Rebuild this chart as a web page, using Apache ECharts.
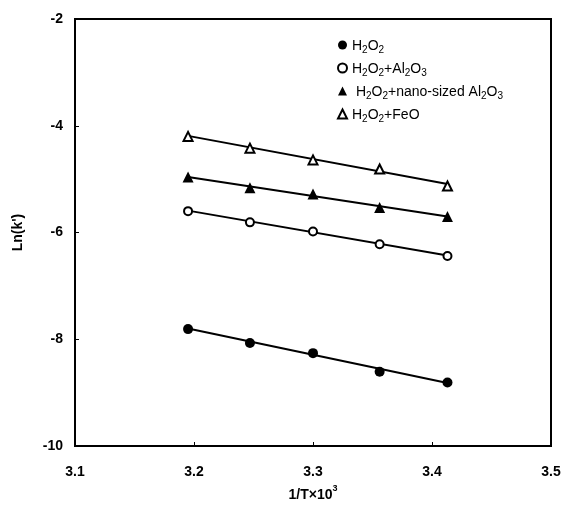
<!DOCTYPE html>
<html>
<head>
<meta charset="utf-8">
<script src="https://cdn.jsdelivr.net/npm/echarts@6/dist/echarts.min.js"></script>
<style>html,body{margin:0;padding:0;background:#fff}#c{width:567px;height:512px}</style>
</head>
<body>
<div id="c"></div>
<script>
// 1/T x 10^3 values
const invT = [3.195, 3.247, 3.300, 3.356, 3.413];
// Ln(k') values per series
const h2o2 = [-7.81, -8.07, -8.26, -8.61, -8.81];
const h2o2Al2O3 = [-5.60, -5.81, -5.98, -6.22, -6.44];
const h2o2NanoAl2O3 = [-4.96, -5.16, -5.28, -5.53, -5.70];
const h2o2FeO = [-4.20, -4.42, -4.64, -4.81, -5.13];
// fitted line end values (at first and last x)
const fitH2o2 = [-7.80, -8.82];
const fitAl2O3 = [-5.59, -6.43];
const fitNano = [-4.96, -5.70];
const fitFeO = [-4.19, -5.09];
const xTicks = [3.1, 3.2, 3.3, 3.4, 3.5];
const yTicks = [-10, -8, -6, -4, -2];

const names = ['H2O2', 'H2O2+Al2O3', 'H2O2+nano-sized Al2O3', 'H2O2+FeO'];
const legendRich = {
  'H2O2': '{n|H}{s|2}{n|O}{s|2}',
  'H2O2+Al2O3': '{n|H}{s|2}{n|O}{s|2}{n|+Al}{s|2}{n|O}{s|3}',
  'H2O2+nano-sized Al2O3': '{n| H}{s|2}{n|O}{s|2}{n|+nano-sized Al}{s|2}{n|O}{s|3}',
  'H2O2+FeO': '{n|H}{s|2}{n|O}{s|2}{n|+FeO}'
};
const pts = (ys) => invT.map((x, i) => [x, ys[i]]);
const fit = (f) => [[invT[0], f[0]], [invT[invT.length - 1], f[1]]];
const FF = 'Liberation Sans, Arial, sans-serif';

const chart = echarts.init(document.getElementById('c'), null, {renderer: 'canvas'});
const scatterBase = {type: 'scatter', z: 3};
chart.setOption({
  animation: false,
  backgroundColor: '#fff',
  grid: {left: 75, right: 16, top: 19, bottom: 66, show: true, borderColor: '#000', borderWidth: 2},
  legend: {
    orient: 'vertical', left: 332, top: 34, itemWidth: 9, itemHeight: 9, itemGap: 7,
    data: names,
    formatter: (n) => legendRich[n],
    textStyle: {
      fontFamily: FF, fontSize: 14, color: '#000',
      rich: {
        n: {fontFamily: FF, fontSize: 14, color: '#000', lineHeight: 16, verticalAlign: 'bottom'},
        s: {fontFamily: FF, fontSize: 10, color: '#000', lineHeight: 10, verticalAlign: 'bottom', padding: [0, 0, -2, 0]}
      }
    }
  },
  xAxis: {
    type: 'value', min: xTicks[0], max: xTicks[xTicks.length - 1], interval: 0.1,
    name: '{a|1/T×10}{b|3}', nameLocation: 'middle', nameGap: 38,
    nameTextStyle: {rich: {
      a: {fontFamily: FF, fontSize: 14, fontWeight: 'bold', color: '#000', verticalAlign: 'bottom', lineHeight: 18},
      b: {fontFamily: FF, fontSize: 9, fontWeight: 'bold', color: '#000', verticalAlign: 'top', lineHeight: 18, padding: [0, 0, 6, 0]}
    }},
    axisLine: {lineStyle: {color: '#000', width: 2}},
    axisTick: {inside: true, length: 4, lineStyle: {color: '#000', width: 1}},
    axisLabel: {margin: 19, fontFamily: FF, fontSize: 14, fontWeight: 'bold', color: '#000', formatter: (v) => v.toFixed(1)},
    splitLine: {show: false}
  },
  yAxis: {
    type: 'value', min: yTicks[0], max: yTicks[yTicks.length - 1], interval: 2,
    name: "Ln(k')", nameLocation: 'middle', nameGap: 50,
    nameTextStyle: {fontFamily: FF, fontSize: 14, fontWeight: 'bold', color: '#000'},
    axisLine: {lineStyle: {color: '#000', width: 2}},
    axisTick: {inside: true, length: 4, lineStyle: {color: '#000', width: 1}},
    axisLabel: {margin: 12, fontFamily: FF, fontSize: 14, fontWeight: 'bold', color: '#000', formatter: (v) => String(v)},
    splitLine: {show: false}
  },
  series: [
    {type: 'line', data: fit(fitH2o2), symbol: 'none', lineStyle: {color: '#000', width: 2}, z: 2, silent: true},
    {type: 'line', data: fit(fitAl2O3), symbol: 'none', lineStyle: {color: '#000', width: 2}, z: 2, silent: true},
    {type: 'line', data: fit(fitNano), symbol: 'none', lineStyle: {color: '#000', width: 2}, z: 2, silent: true},
    {type: 'line', data: fit(fitFeO), symbol: 'none', lineStyle: {color: '#000', width: 2}, z: 2, silent: true},
    Object.assign({}, scatterBase, {name: names[0], data: pts(h2o2), symbol: 'circle', symbolSize: 10,
      itemStyle: {color: '#000', opacity: 1}}),
    Object.assign({}, scatterBase, {name: names[1], data: pts(h2o2Al2O3), symbol: 'circle', symbolSize: 8,
      itemStyle: {color: '#fff', borderColor: '#000', borderWidth: 2, opacity: 1}}),
    Object.assign({}, scatterBase, {name: names[2], data: pts(h2o2NanoAl2O3), symbol: 'triangle', symbolSize: 11,
      itemStyle: {color: '#000', opacity: 1}}),
    Object.assign({}, scatterBase, {name: names[3], data: pts(h2o2FeO), symbol: 'triangle', symbolSize: 9,
      itemStyle: {color: '#fff', borderColor: '#000', borderWidth: 2, opacity: 1}})
  ]
});
</script>
</body>
</html>
